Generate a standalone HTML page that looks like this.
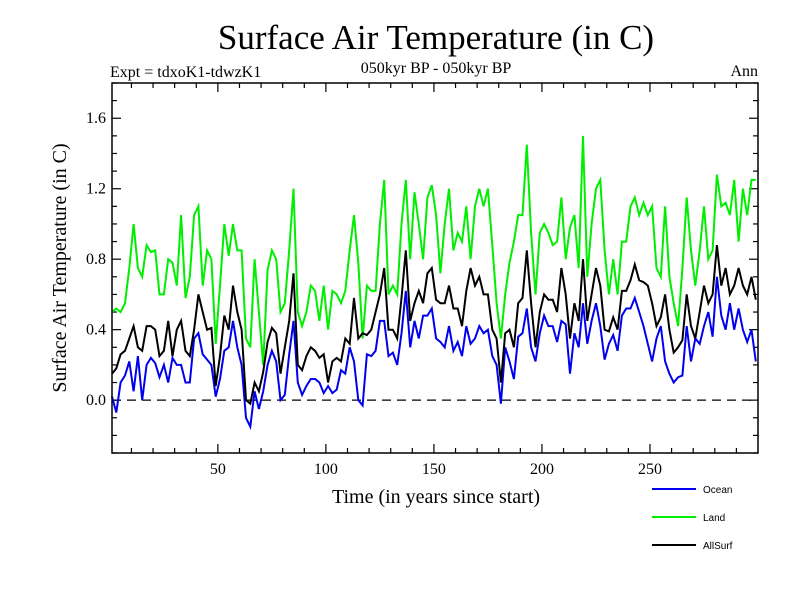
<!DOCTYPE html>
<html><head><meta charset="utf-8"><style>
body{margin:0;background:#fff}
svg text{font-family:"Liberation Serif",serif}
</style></head><body>
<svg id="chart" width="800" height="600" viewBox="0 0 800 600" xmlns="http://www.w3.org/2000/svg">
<rect width="800" height="600" fill="#fff"/>
<text x="436" y="49" font-size="35" text-anchor="middle">Surface Air Temperature (in C)</text>
<text x="110" y="77" font-size="16">Expt = tdxoK1-tdwzK1</text>
<text x="436" y="73" font-size="16" text-anchor="middle">050kyr BP - 050kyr BP</text>
<text x="758" y="76" font-size="16" text-anchor="end">Ann</text>
<text transform="translate(66,268) rotate(-90)" font-size="20" text-anchor="middle">Surface Air Temperature (in C)</text>
<text x="436" y="503" font-size="20" text-anchor="middle">Time (in years since start)</text>
<g id="axes"></g>
<g id="series"></g>
<rect x="112" y="83" width="646" height="370" fill="none" stroke="#000" stroke-width="1.5"/>
<g id="legend"></g>
</svg>
<script>
const ocean = [.02,-.07,.10,.14,.22,.05,.25,0,.20,.24,.21,.13,.20,.10,.24,.20,.20,.10,.10,.35,.38,.26,.23,.20,.02,.12,.28,.30,.45,.30,.20,-.10,-.15,.05,-.05,.05,.20,.28,.22,0,
.03,.26,.45,.10,.03,.08,.12,.12,.10,.04,.08,.04,.06,.17,.15,.30,.22,0,-.03,.26,.25,.28,.45,.45,.25,.27,.20,.38,.62,.30,.45,.35,.48,.48,
.52,.35,.33,.30,.42,.28,.33,.25,.42,.32,.35,.42,.38,.40,.25,.20,-.02,.30,.22,.12,.36,.38,.52,.30,.22,.38,.48,.42,.42,.33,.45,.43,.15,.38,.30,.55,.32,.45,.55,
.42,.23,.32,.37,.28,.48,.52,.52,.58,.50,.42,.32,.22,.35,.42,.22,.15,.10,.13,.14,.42,.22,.35,.32,.42,.50,.36,.70,.48,.40,.55,.40,.52,.40,.33,.40,.22];
const land = [.50,.52,.50,.55,.75,1.0,.75,.70,.88,.84,.85,.60,.60,.80,.78,.65,1.05,.58,.70,1.05,1.10,.65,.85,.80,.32,.65,1.0,.82,1.0,.85,.85,.35,.30,.80,.50,.20,.74,.85,.80,.50,
.55,.85,1.2,.50,.42,.50,.65,.62,.45,.65,.40,.62,.60,.55,.62,.85,1.05,.78,.35,.65,.62,.62,1.0,1.25,.60,.65,.60,1.0,1.25,.80,1.18,1.0,.80,1.15,
1.22,1.05,.72,1.0,1.2,.85,.95,.90,1.10,.80,1.10,1.20,1.10,1.20,.88,.55,.35,.60,.78,.90,1.05,1.05,1.45,.95,.60,.95,1.0,.95,.88,.90,1.15,.80,.98,1.05,.75,1.5,.70,1.0,1.2,
1.25,.85,.60,.80,.60,.90,.90,1.10,1.15,1.05,1.12,1.05,1.10,.75,.70,1.10,.70,.55,.42,.75,1.15,.85,.65,.85,1.10,.80,.85,1.28,1.10,1.12,1.05,1.25,.90,1.20,1.05,1.25,1.25];
const allSurf = [.15,.18,.26,.28,.35,.42,.30,.28,.42,.42,.40,.25,.28,.45,.25,.40,.45,.28,.25,.40,.60,.50,.40,.41,.08,.25,.48,.40,.65,.50,.40,0,-.02,.10,.05,.16,.33,.41,.38,.15,
.30,.45,.72,.20,.17,.25,.30,.28,.24,.26,.10,.22,.24,.22,.35,.32,.58,.35,.38,.37,.40,.50,.60,.75,.40,.40,.35,.58,.85,.45,.55,.62,.55,.72,
.75,.57,.55,.55,.65,.52,.52,.42,.62,.75,.65,.70,.60,.60,.40,.35,.10,.38,.40,.30,.55,.58,.85,.55,.30,.50,.60,.57,.57,.50,.75,.60,.35,.55,.45,.80,.45,.60,.75,
.65,.40,.39,.47,.40,.62,.62,.68,.77,.68,.67,.65,.55,.42,.47,.60,.40,.27,.30,.34,.60,.42,.35,.50,.65,.55,.60,.88,.65,.75,.60,.65,.75,.65,.60,.70,.57];
const yTickLabels = ["0.0","0.4","0.8","1.2","1.6"];
const yTickValues = [0,0.4,0.8,1.2,1.6];
const xTickValues = [50,100,150,200,250];
const yearStart = 1, yearStep = 2;

const NS="http://www.w3.org/2000/svg";
const X0=112,X1=758,Y0=83,Y1=453, XMIN=1, XMAX=300, YMIN=-0.3, YMAX=1.8;
function xs(v){return X0+(v-XMIN)/(XMAX-XMIN)*(X1-X0);}
function ys(v){return Y1-(v-YMIN)/(YMAX-YMIN)*(Y1-Y0);}
function mk(tag,attrs,parent){const e=document.createElementNS(NS,tag);for(const k in attrs)e.setAttribute(k,attrs[k]);parent.appendChild(e);return e;}
const axes=document.getElementById('axes');
for(let v=-0.3;v<=1.8001;v+=0.1){
  const r=Math.round(v*10);const major=(r%4===0);const L=major?9:5;const y=ys(v);
  const t1=mk('line',{x1:X0,x2:X0+L,y1:y,y2:y,stroke:'#000','stroke-width':1.2},axes);
  
  
  const t2=mk('line',{x1:X1-L,x2:X1,y1:y,y2:y,stroke:'#000','stroke-width':1.2},axes);
  
  
}
yTickValues.forEach((v,i)=>{
  const t=mk('text',{x:X0-6,y:ys(v)+5,'font-size':16,'text-anchor':'end'},axes);t.textContent=yTickLabels[i];
  
  
});
mk('line',{x1:X0,x2:X1,y1:ys(0),y2:ys(0),stroke:'#000','stroke-width':1.2,'stroke-dasharray':'9,6'},axes);
for(let v=10;v<300;v+=10){
  const major=(v%50===0);const L=major?9:5;const x=xs(v);
  const t=mk('line',{x1:x,x2:x,y1:Y1-L,y2:Y1,stroke:'#000','stroke-width':1.2},axes);
  
  
  const t2=mk('line',{x1:x,x2:x,y1:Y0,y2:Y0+L,stroke:'#000','stroke-width':1.2},axes);
  
  
}
xTickValues.forEach(v=>{
  const t=mk('text',{x:xs(v),y:Y1+21,'font-size':16,'text-anchor':'middle'},axes);t.textContent=String(v);
  
  
});
const series=document.getElementById('series');
function draw(arr,color,name){
  const pts=arr.map((v,i)=>xs(yearStart+i*yearStep).toFixed(1)+','+ys(v).toFixed(1)).join(' ');
  const p=mk('polyline',{points:pts,fill:'none',stroke:color,'stroke-width':2,'stroke-linejoin':'miter'},series);
  
  
}
draw(land,'#00ee00','land-line');
draw(ocean,'#0000ee','ocean-line');
draw(allSurf,'#000000','allsurf-line');
const legend=document.getElementById('legend');
[['Ocean','#0000ee',489],['Land','#00ee00',517],['AllSurf','#000',545]].forEach(([lab,c,y])=>{
  const l=mk('line',{x1:652,x2:696,y1:y,y2:y,stroke:c,'stroke-width':2},legend);
  
  
  const t=mk('text',{x:703,y:y+4,'font-size':10,style:'font-family:"Liberation Sans",sans-serif'},legend);t.textContent=lab;
  
  
});
</script>
</body></html>
